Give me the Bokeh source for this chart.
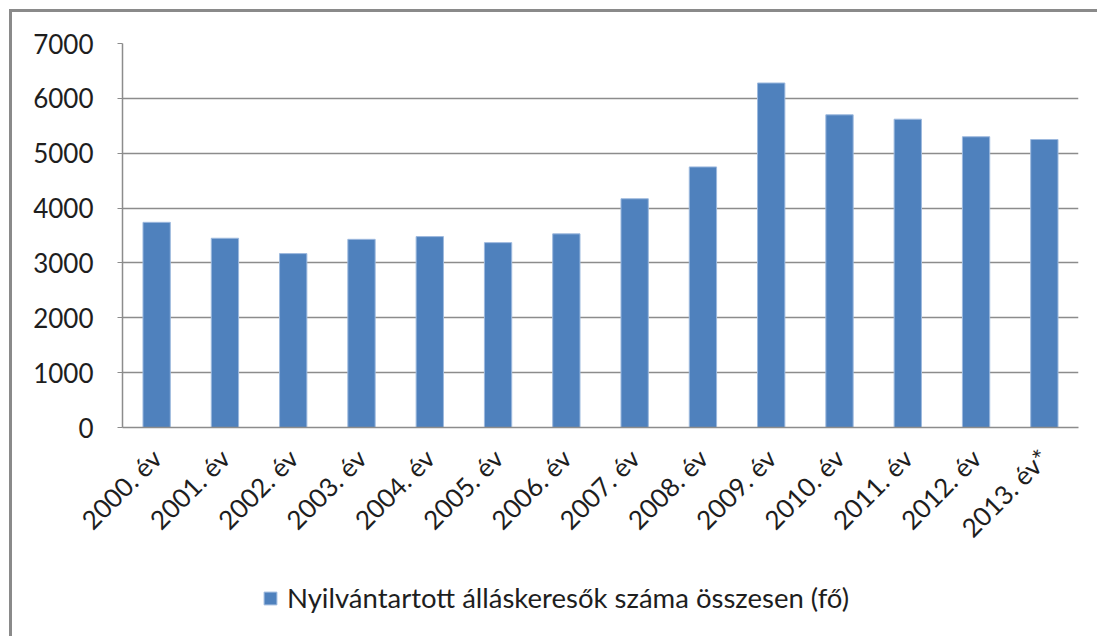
import math
from bokeh.plotting import figure
from bokeh.layouts import column
from bokeh.models import ColumnDataSource, Legend, LegendItem, FixedTicker
from bokeh.embed import file_html
from bokeh.resources import INLINE

categories = ["2000. év", "2001. év", "2002. év", "2003. év", "2004. év",
              "2005. év", "2006. év", "2007. év", "2008. év", "2009. év",
              "2010. év", "2011. év", "2012. év", "2013. év*"]
values = [3740, 3450, 3170, 3430, 3480, 3370, 3530, 4170, 4750, 6280,
          5700, 5620, 5300, 5250]
series_name = "Nyilvántartott álláskeresők száma összesen (fő)"
y_ticks = [0, 1000, 2000, 3000, 4000, 5000, 6000, 7000]

FONT = "Lato"
TEXT = "#1e1e1e"
GRID = "#8c8c8c"
FRAME = "#8a8a8a"
BAR = "#4F81BD"
BAR_EDGE = "#9DB9DE"

src = ColumnDataSource(dict(cat=categories, val=values))

# main chart
p = figure(x_range=categories, y_range=(0, 7000), width=1097, height=560,
           output_backend="svg", toolbar_location=None,
           min_border_left=122, min_border_right=19,
           min_border_top=43, min_border_bottom=133)
p.border_fill_color = None
p.background_fill_color = None

p.vbar(x="cat", top="val", width=0.4, source=src,
       fill_color=BAR, line_color=BAR_EDGE, line_width=1)

p.outline_line_color = None
p.xgrid.grid_line_color = None
p.ygrid.grid_line_color = GRID
p.ygrid.grid_line_width = 1.5

p.yaxis.ticker = FixedTicker(ticks=y_ticks)
p.yaxis.minor_tick_line_color = None
p.yaxis.major_tick_in = 0
p.yaxis.major_tick_out = 5
p.yaxis.major_tick_line_color = GRID
p.yaxis.axis_line_color = GRID
p.yaxis.axis_line_width = 1.5
p.yaxis.major_label_standoff = 24
p.yaxis.major_label_text_font = FONT
p.yaxis.major_label_text_font_size = "26px"
p.yaxis.major_label_text_color = TEXT

p.xaxis.major_label_orientation = math.pi / 4
p.xaxis.major_tick_line_color = None
p.xaxis.axis_line_color = GRID
p.xaxis.axis_line_width = 1.5
p.xaxis.major_label_standoff = 20
p.xaxis.major_label_text_font = FONT
p.xaxis.major_label_text_font_size = "26px"
p.xaxis.major_label_text_color = TEXT

# legend strip below the chart; its key renderer is hidden, only the key shows
lg = figure(width=1097, height=76, x_range=categories, y_range=(0, 7000),
            output_backend="svg", toolbar_location=None,
            min_border_left=0, min_border_right=0,
            min_border_top=0, min_border_bottom=0)
lg.axis.visible = False
lg.grid.visible = False
lg.outline_line_color = None
lg.border_fill_color = None
lg.background_fill_color = None
r_key = lg.vbar(x="cat", top="val", width=0.4, source=src,
                fill_color=BAR, line_color=BAR_EDGE, line_width=1)
r_key.visible = False

legend = Legend(items=[LegendItem(label=series_name, renderers=[r_key])],
                location=(140, 22), orientation="horizontal",
                padding=0, margin=0, spacing=0,
                glyph_width=16, glyph_height=16, label_standoff=9,
                label_text_font=FONT, label_text_font_size="27.5px",
                label_text_color=TEXT, border_line_color=None,
                background_fill_alpha=0, inactive_fill_alpha=0)
lg.add_layout(legend, "center")

page = column(p, lg, spacing=0)
page.styles = {
    "background-color": "white",
    "background-image": f"linear-gradient({FRAME},{FRAME}), linear-gradient({FRAME},{FRAME})",
    "background-size": "3px 100%, 100% 3px",
    "background-position": "9px 9px, 9px 9px",
    "background-repeat": "no-repeat",
}

open("out.html", "w").write(file_html(page, INLINE))
